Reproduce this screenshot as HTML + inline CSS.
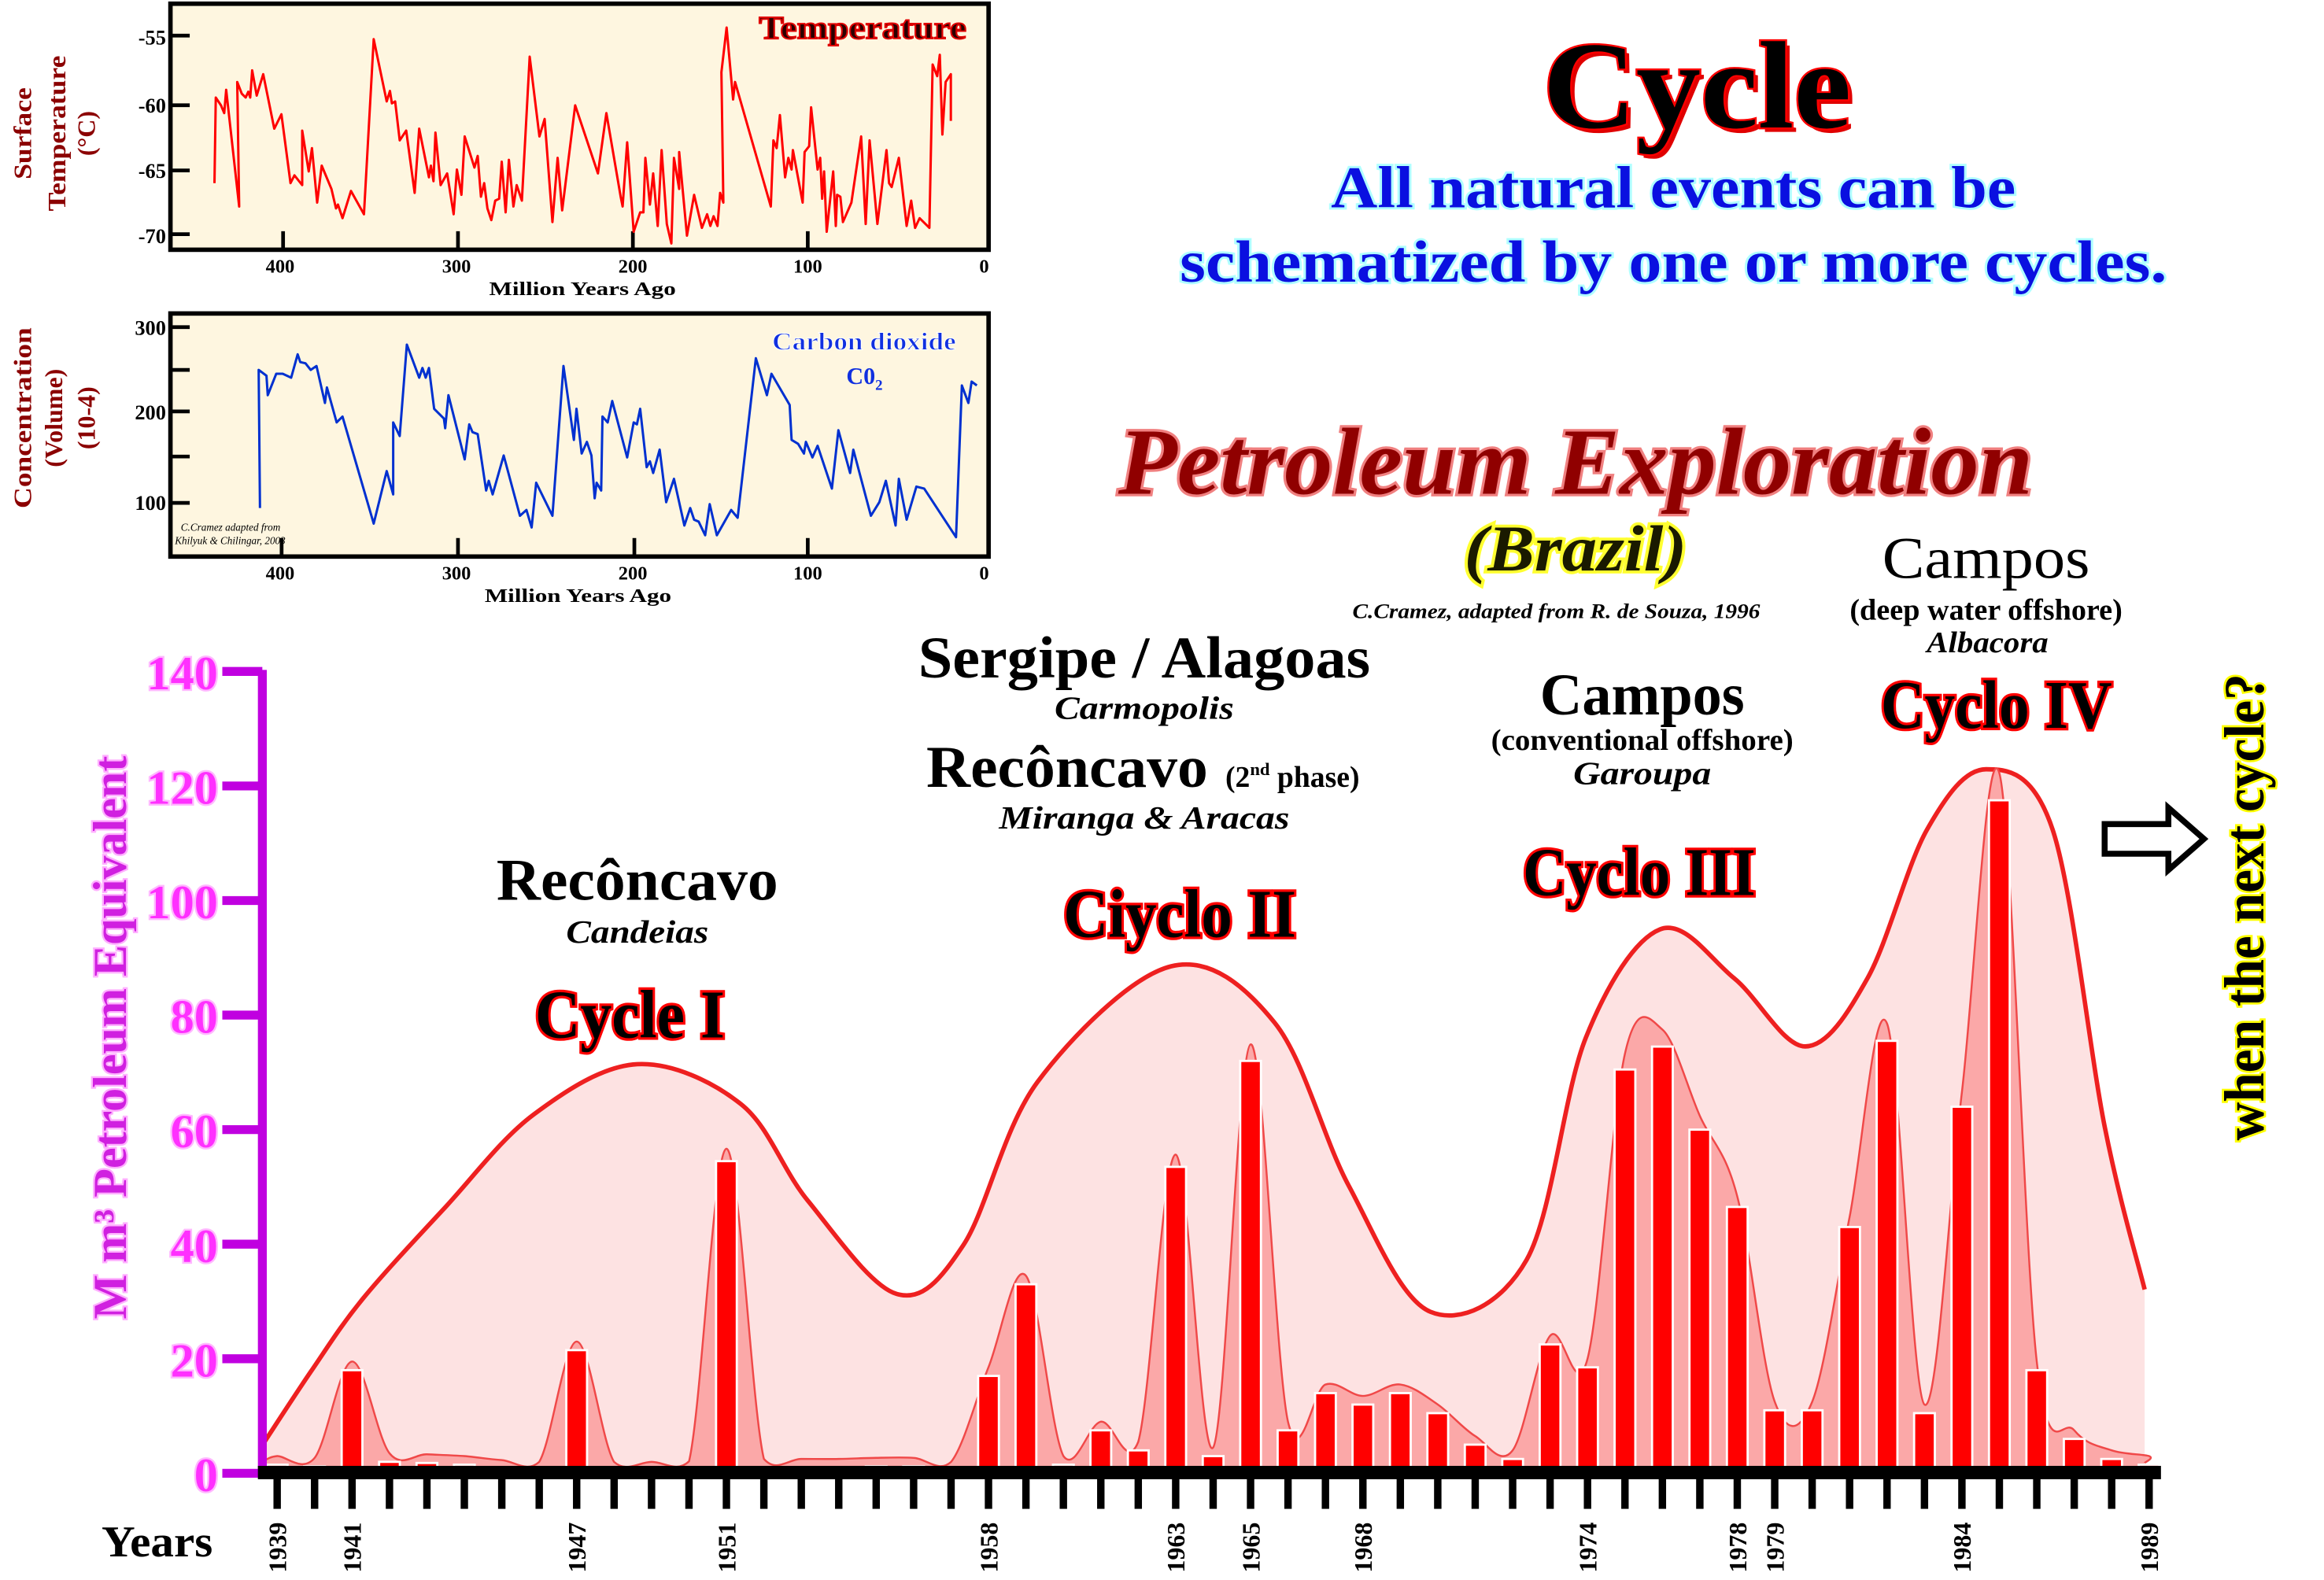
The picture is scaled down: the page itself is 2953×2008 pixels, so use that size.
<!DOCTYPE html>
<html><head><meta charset="utf-8"><style>
html,body{margin:0;padding:0;background:#fff;}
svg{display:block;}
text{font-family:"Liberation Serif",serif;}
</style></head><body>
<svg id="s" width="2953" height="2008" viewBox="0 0 1568 1066" preserveAspectRatio="none" xmlns="http://www.w3.org/2000/svg">
<rect width="1568" height="1066" fill="#fff"/>
<rect x="115" y="2.5" width="552" height="166" fill="#fef6e0" stroke="#000" stroke-width="3"/>
<g stroke="#000" stroke-width="2.5">
<line x1="115" y1="24" x2="128" y2="24"/><line x1="115" y1="71" x2="128" y2="71"/><line x1="115" y1="115" x2="128" y2="115"/><line x1="115" y1="158" x2="128" y2="158"/>
<line x1="191" y1="168" x2="191" y2="156"/><line x1="309" y1="168" x2="309" y2="156"/><line x1="427" y1="168" x2="427" y2="156"/><line x1="545" y1="168" x2="545" y2="156"/>
</g>
<g font-size="14" font-weight="bold" text-anchor="end">
<text x="112" y="30">-55</text><text x="112" y="76">-60</text><text x="112" y="120">-65</text><text x="112" y="164">-70</text>
</g>
<g font-size="13" font-weight="bold" text-anchor="middle">
<text x="189" y="184">400</text><text x="308" y="184">300</text><text x="427" y="184">200</text><text x="545" y="184">100</text><text x="664" y="184">0</text>
<text x="393" y="199" textLength="126" lengthAdjust="spacingAndGlyphs">Million Years Ago</text>
</g>
<g font-size="17" font-weight="bold" fill="#8b0000" text-anchor="middle">
<text transform="translate(21,90) rotate(-90)" textLength="62" lengthAdjust="spacingAndGlyphs">Surface</text>
<text transform="translate(44,90) rotate(-90)" textLength="105" lengthAdjust="spacingAndGlyphs">Temperature</text>
<text transform="translate(64,90) rotate(-90)">(°C)</text>
</g>
<text x="652" y="26" font-size="22" font-weight="bold" text-anchor="end" fill="#2a0000" stroke="#e00000" stroke-width="1" textLength="140" lengthAdjust="spacingAndGlyphs">Temperature</text>

<rect x="115" y="211.5" width="552" height="164" fill="#fef6e0" stroke="#000" stroke-width="3"/>
<g stroke="#000" stroke-width="2.5">
<line x1="115" y1="220.7" x2="128" y2="220.7"/><line x1="115" y1="249.6" x2="128" y2="249.6"/><line x1="115" y1="277.6" x2="128" y2="277.6"/><line x1="115" y1="308" x2="128" y2="308"/><line x1="115" y1="339.3" x2="128" y2="339.3"/>
<line x1="190" y1="375" x2="190" y2="363"/><line x1="309" y1="375" x2="309" y2="363"/><line x1="428" y1="375" x2="428" y2="363"/><line x1="545" y1="375" x2="545" y2="363"/>
</g>
<g font-size="14" font-weight="bold" text-anchor="end">
<text x="112" y="226">300</text><text x="112" y="283">200</text><text x="112" y="344">100</text>
</g>
<g font-size="13" font-weight="bold" text-anchor="middle">
<text x="189" y="391">400</text><text x="308" y="391">300</text><text x="427" y="391">200</text><text x="545" y="391">100</text><text x="664" y="391">0</text>
<text x="390" y="406" textLength="126" lengthAdjust="spacingAndGlyphs">Million Years Ago</text>
</g>
<g font-size="17" font-weight="bold" fill="#8b0000" text-anchor="middle">
<text transform="translate(21,282) rotate(-90)" textLength="122" lengthAdjust="spacingAndGlyphs">Concentration</text>
<text transform="translate(42,282) rotate(-90)">(Volume)</text>
<text transform="translate(64,282) rotate(-90)">(10-4)</text>
</g>
<text x="645" y="236" font-size="17" font-weight="bold" text-anchor="end" fill="#1030e0" stroke="#fff" stroke-width="0.5" textLength="124" lengthAdjust="spacingAndGlyphs">Carbon dioxide</text>
<text x="571" y="259" font-size="16" font-weight="bold" fill="#1030e0">C0<tspan font-size="10" dy="4">2</tspan></text>
<text x="122" y="358" font-size="7" font-style="italic">C.Cramez adapted from</text>
<text x="118" y="367" font-size="7" font-style="italic">Khilyuk &amp; Chilingar, 2003</text>

<g transform="translate(0,1.5) scale(0.4385,0.2625)" fill="none" stroke-linejoin="round">
<polyline stroke="#ff0000" stroke-width="3" vector-effect="non-scaling-stroke" points="330,465 332,245 340,265 345,285 348,225 355,330 368,525 365,205 372,235 378,245 382,230 385,245 388,175 395,240 405,185 422,325 433,288 447,465 453,445 465,470 465,330 475,435 480,375 488,515 495,420 510,480 517,530 520,520 527,555 540,485 560,545 575,95 595,255 600,228 603,260 608,255 615,355 625,330 638,490 645,325 660,450 663,420 667,460 670,335 678,470 688,440 698,545 703,430 710,495 715,345 730,425 735,395 740,500 745,465 750,530 756,560 762,510 768,505 772,410 778,540 783,405 790,525 795,470 803,510 815,140 830,345 838,300 850,565 858,400 865,535 885,265 920,440 933,285 955,500 958,525 965,360 975,590 985,540 990,540 993,400 1000,520 1005,440 1012,575 1018,380 1026,570 1033,620 1037,400 1045,480 1045,385 1057,600 1068,495 1080,580 1088,545 1093,575 1098,550 1104,575 1108,490 1113,515 1110,180 1118,65 1128,250 1131,205 1186,525 1190,355 1195,375 1200,290 1208,450 1213,400 1218,430 1220,380 1235,515 1238,385 1245,370 1248,270 1258,430 1262,400 1265,505 1268,435 1272,590 1282,435 1286,575 1288,495 1293,500 1297,565 1310,515 1325,345 1332,570 1338,355 1350,570 1364,380 1368,465 1372,475 1383,400 1395,575 1402,510 1408,580 1415,555 1430,580 1435,160 1442,190 1446,135 1450,340 1455,205 1463,185 1463,305"/>
<polyline stroke="#0030d0" stroke-width="3" vector-effect="non-scaling-stroke" points="400,1300 398,945 410,960 412,1010 425,955 435,955 448,965 458,905 462,925 470,928 478,945 487,935 500,1030 503,990 518,1080 527,1065 575,1340 595,1205 605,1265 605,1080 615,1115 626,880 645,965 650,940 655,965 660,940 668,1045 683,1070 685,1095 690,1010 715,1175 722,1085 727,1105 735,1110 748,1255 752,1230 758,1265 775,1165 800,1320 810,1305 818,1350 825,1235 850,1320 867,935 883,1125 887,1045 895,1160 903,1130 910,1165 915,1275 918,1235 925,1255 927,1065 935,1080 942,1025 965,1170 975,1080 980,1085 985,1045 995,1195 1000,1180 1005,1210 1015,1150 1025,1285 1037,1225 1053,1345 1062,1300 1068,1330 1075,1335 1085,1370 1092,1290 1103,1370 1125,1305 1135,1325 1163,915 1180,1010 1187,955 1215,1035 1218,1125 1228,1135 1237,1160 1240,1130 1250,1170 1258,1140 1280,1250 1290,1100 1308,1210 1313,1150 1340,1320 1353,1285 1363,1230 1378,1345 1383,1225 1395,1330 1410,1245 1422,1250 1471,1375 1480,985 1490,1030 1495,975 1503,985"/>
</g>

<text x="1148" y="89" font-size="84" font-weight="bold" text-anchor="middle" fill="#e00000" textLength="208" lengthAdjust="spacingAndGlyphs">Cycle</text>
<text x="1145" y="86" font-size="84" font-weight="bold" text-anchor="middle" fill="#000" stroke="#ff0000" stroke-width="2.5" style="paint-order:stroke" textLength="208" lengthAdjust="spacingAndGlyphs">Cycle</text>
<g font-size="40" font-weight="bold" text-anchor="middle" fill="#0a10e0" stroke="#b0ffff" stroke-width="3" style="paint-order:stroke">
<text x="1129" y="140" textLength="462" lengthAdjust="spacingAndGlyphs">All natural events can be</text>
<text x="1129" y="190" textLength="666" lengthAdjust="spacingAndGlyphs">schematized by one or more cycles.</text>
</g>
<text x="1063" y="333" font-size="64" font-weight="bold" font-style="italic" text-anchor="middle" fill="#900000" stroke="#f08080" stroke-width="3.5" style="paint-order:stroke" textLength="617" lengthAdjust="spacingAndGlyphs">Petroleum Exploration</text>
<text x="1063" y="385" font-size="44" font-weight="bold" font-style="italic" text-anchor="middle" fill="#1a1a00" stroke="#ffff30" stroke-width="4" style="paint-order:stroke" textLength="150" lengthAdjust="spacingAndGlyphs">(Brazil)</text>
<text x="1050" y="417" font-size="14" font-weight="bold" font-style="italic" text-anchor="middle" textLength="275" lengthAdjust="spacingAndGlyphs">C.Cramez, adapted from R. de Souza, 1996</text>

<g text-anchor="middle" fill="#000">
<text x="1340" y="390" font-size="40" textLength="140" lengthAdjust="spacingAndGlyphs">Campos</text>
<text x="1340" y="418" font-size="20" font-weight="bold" textLength="184" lengthAdjust="spacingAndGlyphs">(deep water offshore)</text>
<text x="1341" y="440" font-size="20" font-weight="bold" font-style="italic" textLength="82" lengthAdjust="spacingAndGlyphs">Albacora</text>
<text x="772" y="457" font-size="40" font-weight="bold" textLength="305" lengthAdjust="spacingAndGlyphs">Sergipe / Alagoas</text>
<text x="772" y="485" font-size="22" font-weight="bold" font-style="italic" textLength="121" lengthAdjust="spacingAndGlyphs">Carmopolis</text>
<text x="720" y="531" font-size="40" font-weight="bold" textLength="190" lengthAdjust="spacingAndGlyphs">Recôncavo</text>
<text x="872" y="531" font-size="20" font-weight="bold">(2<tspan font-size="12" dy="-8">nd</tspan><tspan dy="8"> phase)</tspan></text>
<text x="772" y="559" font-size="22" font-weight="bold" font-style="italic" textLength="196" lengthAdjust="spacingAndGlyphs">Miranga &amp; Aracas</text>
<text x="1108" y="482" font-size="40" font-weight="bold" textLength="138" lengthAdjust="spacingAndGlyphs">Campos</text>
<text x="1108" y="506" font-size="20" font-weight="bold" textLength="204" lengthAdjust="spacingAndGlyphs">(conventional offshore)</text>
<text x="1108" y="529" font-size="22" font-weight="bold" font-style="italic" textLength="93" lengthAdjust="spacingAndGlyphs">Garoupa</text>
<text x="430" y="607" font-size="40" font-weight="bold" textLength="190" lengthAdjust="spacingAndGlyphs">Recôncavo</text>
<text x="430" y="636" font-size="22" font-weight="bold" font-style="italic" textLength="96" lengthAdjust="spacingAndGlyphs">Candeias</text>
</g>
<g font-size="46" font-weight="bold" text-anchor="middle" fill="#000" stroke="#ff0000" stroke-width="3.5" style="paint-order:stroke">
<text x="1347" y="491" textLength="156" lengthAdjust="spacingAndGlyphs">Cyclo IV</text>
<text x="1106" y="604" textLength="157" lengthAdjust="spacingAndGlyphs">Cyclo III</text>
<text x="796" y="632" textLength="157" lengthAdjust="spacingAndGlyphs">Ciyclo II</text>
<text x="425" y="700" textLength="128" lengthAdjust="spacingAndGlyphs">Cycle I</text>
</g>
<text transform="translate(1527,612) rotate(-90)" font-size="38" font-weight="bold" text-anchor="middle" fill="#000" stroke="#ffff00" stroke-width="3" style="paint-order:stroke" textLength="315" lengthAdjust="spacingAndGlyphs">when the next cycle?</text>
<path d="M1420,556 L1463,556 L1463,545 L1487,566 L1463,587 L1463,576 L1420,576 Z" fill="#fff" stroke="#000" stroke-width="4"/>

<g id="main"></g>
<line x1="177" y1="452" x2="177" y2="996" stroke="#c000e0" stroke-width="6"/>
<g id="yt" stroke="#c000e0" stroke-width="6"></g>
<g id="ytl" font-size="32" font-weight="bold" text-anchor="end" fill="#ff30ff" stroke="#ffb8ff" stroke-width="2.5" style="paint-order:stroke"></g>
<text transform="translate(85,700) rotate(-90)" font-size="32" font-weight="bold" text-anchor="middle" fill="#d020e0" stroke="#ffb0ff" stroke-width="2.5" style="paint-order:stroke" textLength="380" lengthAdjust="spacingAndGlyphs">M m³ Petroleum Equivalent</text>
<rect x="174" y="989" width="1284" height="9" fill="#000"/>
<g id="xt" fill="#000"></g>
<text x="106" y="1050" font-size="30" font-weight="bold" text-anchor="middle" textLength="75" lengthAdjust="spacingAndGlyphs">Years</text>
</svg>
<script>
(function(){
var NS="http://www.w3.org/2000/svg";
function el(t,a,p){var e=document.createElementNS(NS,t);for(var k in a)e.setAttribute(k,a[k]);if(p)p.appendChild(e);return e;}
var vals=[1.5,1.2,18,2,1.8,1.5,0.8,0.5,21.5,0.5,0.5,0.6,54.5,1,1,1,1.2,1.2,0.5,17,33,1.5,7.5,4,53.5,3,72,7.5,14,12,14,10.5,5,2.5,22.5,18.5,70.5,74.5,60,46.5,11,11,43,75.5,10.5,64,117.5,18,6,2.5,1.5];
var x0=187,dx=25.26,Y0=994,k=541/140;
function X(i){return x0+i*dx;}function Y(v){return Y0-v*k;}
function cr(pts){var d="M"+pts[0][0]+","+pts[0][1];
for(var i=0;i<pts.length-1;i++){var p0=pts[Math.max(0,i-1)],p1=pts[i],p2=pts[i+1],p3=pts[Math.min(pts.length-1,i+2)];
var t=0.5/3;var c1=[p1[0]+(p2[0]-p0[0])*t,p1[1]+(p2[1]-p0[1])*t],c2=[p2[0]-(p3[0]-p1[0])*t,p2[1]-(p3[1]-p1[1])*t];
if(c1[1]>Y0)c1[1]=Y0;if(c2[1]>Y0)c2[1]=Y0;
d+=" C"+c1[0].toFixed(1)+","+c1[1].toFixed(1)+" "+c2[0].toFixed(1)+","+c2[1].toFixed(1)+" "+p2[0].toFixed(1)+","+p2[1].toFixed(1);}
return d;}
var g=document.getElementById("main");
var env=[[177,975],[210,925],[245,876],[300,815],[360,752],[430,718],[500,745],[545,810],[605,873],[650,840],[700,730],[790,652],[860,690],[910,800],[965,885],[1030,850],[1070,700],[1120,627],[1170,660],[1218,706],[1260,660],[1300,560],[1340,519],[1385,560],[1420,760],[1447,870]];
var ed=cr(env);
el("path",{d:ed+" L1447,994 L177,994 Z",fill:"#fde2e2",stroke:"none"},g);
el("path",{d:ed,fill:"none",stroke:"#ee2020","stroke-width":3},g);
var pts=[[177,Y(2)]];
for(var i=0;i<vals.length;i++){var v=vals[i];var a=v+Math.max(1.5,v*0.04);pts.push([X(i),Y(a)]);}
pts.push([1447,Y(1.8)]);
var id=cr(pts);
el("path",{d:id+" L1447,994 L177,994 Z",fill:"#fba8a8",stroke:"none"},g);
el("path",{d:id,fill:"none",stroke:"#f04848","stroke-width":1.3},g);
for(var i=0;i<vals.length;i++){var v=vals[i];el("rect",{x:X(i)-7,y:Y(v),width:14,height:v*k,fill:"#ff0000",stroke:"#fff","stroke-width":1.5},g);}
var yt=document.getElementById("yt"),ytl=document.getElementById("ytl");
for(var v=0;v<=140;v+=20){el("line",{x1:150,y1:Y(v),x2:177,y2:Y(v)},yt);var t=el("text",{x:147,y:Y(v)+12},ytl);t.textContent=v;}
var xt=document.getElementById("xt");
for(var i=0;i<=50;i++){el("rect",{x:X(i)-2.5,y:997,width:5,height:21},xt);}
var labs=[1939,1941,1947,1951,1958,1963,1965,1968,1974,1978,1979,1984,1989];
labs.forEach(function(yr){var i=yr-1939;var t=el("text",{transform:"translate("+(X(i)+6)+",1061) rotate(-90)","font-size":17,"font-weight":"bold"},xt);t.textContent=yr;});
})();
</script>
</body></html>
